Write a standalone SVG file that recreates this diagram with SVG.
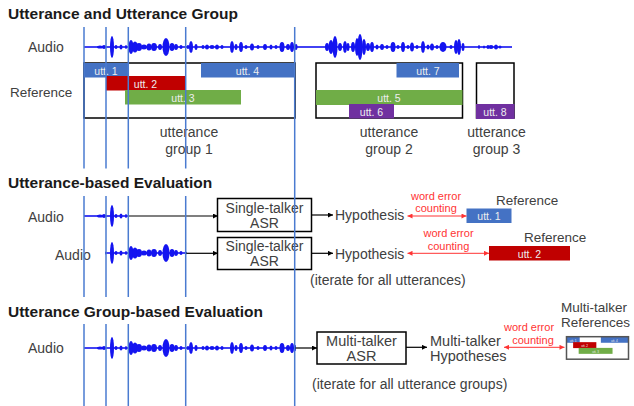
<svg xmlns="http://www.w3.org/2000/svg" width="634" height="406" viewBox="0 0 634 406">
<style>
.t{font-family:"Liberation Sans",Arial,sans-serif;fill:#404040}
.title{font-family:"Liberation Sans",Arial,sans-serif;font-weight:bold;font-size:15.5px;fill:#1a1a1a}
.lbl{font-size:14px}
.mid{text-anchor:middle}
.utt{font-family:"Liberation Sans",Arial,sans-serif;font-size:10.5px;fill:#eeeeee;text-anchor:middle}
.we{font-family:"Liberation Sans",Arial,sans-serif;font-size:11px;fill:#ff3333;text-anchor:middle}
.vl{stroke:#4A7BD0;stroke-width:1.5}
.box{fill:#fff;stroke:#000;stroke-width:1.5}
.frame{fill:none;stroke:#000;stroke-width:1.5}
.arr{stroke:#000;stroke-width:1.2;fill:none;marker-end:url(#ah)}
.rarr{stroke:#ff3333;stroke-width:1;fill:none;marker-start:url(#rah);marker-end:url(#rah)}
.blue{fill:#4472C4}.red{fill:#C00000}.green{fill:#70AD47}.purple{fill:#7030A0}
.wv{fill:#1414F0}
</style>
<defs>
<marker id="ah" viewBox="0 0 10 10" refX="10" refY="5" markerWidth="6" markerHeight="5" markerUnits="userSpaceOnUse" orient="auto"><path d="M0,0 L10,5 L0,10 z" fill="#000"/></marker>
<marker id="rah" viewBox="0 0 10 10" refX="10" refY="5" markerWidth="6" markerHeight="5" markerUnits="userSpaceOnUse" orient="auto-start-reverse"><path d="M0,0 L10,5 L0,10 z" fill="#ff3333"/></marker>
<g id="wave" class="wv">
<rect x="84" y="-0.8" width="428" height="1.6"/>
<ellipse cx="100" cy="0" rx="3" ry="1.5"/><ellipse cx="104" cy="0" rx="2" ry="2"/><ellipse cx="112" cy="0" rx="2" ry="11"/><ellipse cx="116" cy="0" rx="1.5" ry="2"/><ellipse cx="121" cy="0" rx="1.5" ry="2.5"/><ellipse cx="126" cy="0" rx="1" ry="2"/>
<ellipse cx="131" cy="0" rx="2.5" ry="7"/><ellipse cx="135" cy="0" rx="3" ry="5.5"/><ellipse cx="139" cy="0" rx="3" ry="4"/><ellipse cx="144" cy="0" rx="3" ry="2.5"/><ellipse cx="149" cy="0" rx="2.5" ry="3.5"/><ellipse cx="154" cy="0" rx="3" ry="4"/><ellipse cx="160" cy="0" rx="2" ry="3"/><ellipse cx="166" cy="0" rx="3.5" ry="9"/><ellipse cx="172" cy="0" rx="2.5" ry="4"/><ellipse cx="176" cy="0" rx="2" ry="3"/><ellipse cx="181" cy="0" rx="1.5" ry="2"/>
<ellipse cx="188" cy="0" rx="1.5" ry="2"/><ellipse cx="191" cy="0" rx="2" ry="6"/><ellipse cx="196" cy="0" rx="1.5" ry="3"/><ellipse cx="203" cy="0" rx="1.5" ry="2"/><ellipse cx="207" cy="0" rx="2" ry="2.5"/><ellipse cx="212" cy="0" rx="2.5" ry="2"/><ellipse cx="217" cy="0" rx="2" ry="2.5"/><ellipse cx="222" cy="0" rx="1.5" ry="2"/>
<ellipse cx="232" cy="0" rx="2" ry="6"/><ellipse cx="236" cy="0" rx="1.5" ry="3"/><ellipse cx="241" cy="0" rx="2" ry="5"/><ellipse cx="246" cy="0" rx="1.5" ry="2"/><ellipse cx="252" cy="0" rx="2" ry="3.5"/><ellipse cx="258" cy="0" rx="1.5" ry="2"/><ellipse cx="265" cy="0" rx="2" ry="3"/><ellipse cx="271" cy="0" rx="1.5" ry="2.5"/><ellipse cx="276" cy="0" rx="1.5" ry="2"/><ellipse cx="282" cy="0" rx="2.5" ry="5"/><ellipse cx="288" cy="0" rx="2" ry="3"/><ellipse cx="292" cy="0" rx="2" ry="5"/><ellipse cx="296" cy="0" rx="1.5" ry="3"/>
<ellipse cx="327" cy="0" rx="2" ry="4"/><ellipse cx="331" cy="0" rx="2.5" ry="7"/><ellipse cx="335" cy="0" rx="2.5" ry="11"/><ellipse cx="340" cy="0" rx="2" ry="4"/><ellipse cx="345" cy="0" rx="2" ry="6"/><ellipse cx="348" cy="0" rx="1.5" ry="4"/><ellipse cx="353" cy="0" rx="2" ry="5"/><ellipse cx="357" cy="0" rx="2" ry="9"/><ellipse cx="360" cy="0" rx="2.5" ry="13"/><ellipse cx="364" cy="0" rx="2" ry="8"/><ellipse cx="368" cy="0" rx="2" ry="4"/><ellipse cx="372" cy="0" rx="2" ry="5"/><ellipse cx="377" cy="0" rx="1.5" ry="2.5"/><ellipse cx="382" cy="0" rx="2" ry="3"/><ellipse cx="387" cy="0" rx="1.5" ry="2"/>
<ellipse cx="393" cy="0" rx="2.5" ry="5"/><ellipse cx="398" cy="0" rx="1.5" ry="2"/><ellipse cx="403" cy="0" rx="2" ry="5"/><ellipse cx="408" cy="0" rx="1.5" ry="2"/><ellipse cx="412" cy="0" rx="2" ry="4.5"/><ellipse cx="417" cy="0" rx="1.5" ry="2"/><ellipse cx="423" cy="0" rx="2" ry="6"/><ellipse cx="428" cy="0" rx="1.5" ry="2.5"/><ellipse cx="432" cy="0" rx="2" ry="3.5"/><ellipse cx="437" cy="0" rx="1.5" ry="2"/><ellipse cx="443" cy="0" rx="3.5" ry="5"/><ellipse cx="451" cy="0" rx="1.5" ry="2"/><ellipse cx="456" cy="0" rx="2" ry="7"/><ellipse cx="459" cy="0" rx="2" ry="8"/><ellipse cx="463" cy="0" rx="1.5" ry="4"/>
<ellipse cx="479" cy="0" rx="1" ry="2"/><ellipse cx="484" cy="0" rx="1" ry="1.5"/><ellipse cx="488" cy="0" rx="1.5" ry="2"/><ellipse cx="491" cy="0" rx="2.5" ry="2"/><ellipse cx="496" cy="0" rx="2" ry="2.5"/><ellipse cx="500" cy="0" rx="1.5" ry="1.5"/>
</g>
<clipPath id="c2"><rect x="83" y="190" width="46" height="40"/></clipPath>
<clipPath id="c3"><rect x="105" y="230" width="82" height="40"/></clipPath>
<clipPath id="c4"><rect x="83" y="325" width="213" height="45"/></clipPath>
</defs>

<!-- Section 1 -->
<text class="title" x="8" y="19">Utterance and Utterance Group</text>
<g id="audio1">
<text class="t lbl" x="28" y="52">Audio</text>
<use href="#wave" transform="translate(0,47)"/>
</g>
<text class="t" x="10" y="97" font-size="13.5">Reference</text>

<g id="group1">
<rect class="frame" x="84" y="63" width="211" height="55"/>
<g id="g1bars">
<rect class="blue" x="84" y="63" width="44.5" height="14.5"/>
<text class="utt" x="106" y="74.5">utt. 1</text>
<rect class="blue" x="201" y="63" width="94" height="14.5"/>
<text class="utt" x="247.5" y="74.5">utt. 4</text>
<rect class="red" x="106" y="76" width="79.5" height="14.5"/>
<text class="utt" x="145.5" y="88">utt. 2</text>
<rect class="green" x="125" y="90" width="116" height="14.5"/>
<text class="utt" x="183" y="102">utt. 3</text>
</g>
<text class="t lbl mid" x="189" y="137">utterance</text>
<text class="t lbl mid" x="189" y="154">group 1</text>
</g>

<g id="group2">
<rect class="frame" x="316" y="63" width="146.5" height="55"/>
<rect class="blue" x="396.5" y="63" width="62.5" height="14.5"/>
<text class="utt" x="428" y="75">utt. 7</text>
<rect class="green" x="316" y="90" width="146.5" height="15"/>
<text class="utt" x="389" y="101.5">utt. 5</text>
<rect class="purple" x="349" y="104" width="45" height="14.5"/>
<text class="utt" x="371.5" y="115.5">utt. 6</text>
<text class="t lbl mid" x="389" y="137">utterance</text>
<text class="t lbl mid" x="389" y="154">group 2</text>
</g>

<g id="group3">
<rect class="frame" x="476.5" y="63" width="37.5" height="55"/>
<rect class="purple" x="476" y="104" width="38.5" height="15"/>
<text class="utt" x="495" y="115.5">utt. 8</text>
<text class="t lbl mid" x="496.5" y="137">utterance</text>
<text class="t lbl mid" x="496.5" y="154">group 3</text>
</g>

<!-- Section 2 -->
<g id="audio2">
<text class="t lbl" x="28" y="221.5">Audio</text>
<g clip-path="url(#c2)"><use href="#wave" transform="translate(0,216)"/></g>
</g>
<g id="audio3">
<text class="t lbl" x="55" y="260">Audio</text>
<g clip-path="url(#c3)"><use href="#wave" transform="translate(0,253)"/></g>
</g>
<g id="asr1">
<rect class="box" x="217.5" y="198.5" width="94" height="33"/>
<text class="t lbl mid" x="264.5" y="213">Single-talker</text>
<text class="t lbl mid" x="264.5" y="228">ASR</text>
</g>
<g id="asr2">
<rect class="box" x="217.5" y="237.5" width="94" height="32"/>
<text class="t lbl mid" x="264.5" y="251">Single-talker</text>
<text class="t lbl mid" x="264.5" y="265.5">ASR</text>
</g>
<g id="hyp1"><text class="t lbl" x="335" y="220">Hypothesis</text></g>
<g id="hyp2"><text class="t lbl" x="335" y="258.5">Hypothesis</text></g>
<g id="ref1">
<text class="t" x="496" y="205" font-size="13.5">Reference</text>
<rect class="blue" x="466.5" y="208.5" width="45" height="14.5"/>
<text class="utt" x="489" y="220">utt. 1</text>
</g>
<g id="ref2">
<text class="t" x="524" y="241.5" font-size="13.5">Reference</text>
<rect class="red" x="489" y="246" width="81" height="14.5"/>
<text class="utt" x="529.5" y="257.5">utt. 2</text>
</g>
<text class="t lbl" x="310" y="285">(iterate for all utterances)</text>

<!-- Section 3 -->
<g id="audio4">
<text class="t lbl" x="28" y="353">Audio</text>
<g clip-path="url(#c4)"><use href="#wave" transform="translate(0,348)"/></g>
</g>
<g id="asr3">
<rect class="box" x="317" y="332" width="89" height="32"/>
<text class="t mid" x="361.5" y="345.5" font-size="14.5">Multi-talker</text>
<text class="t mid" x="361.5" y="361" font-size="14.5">ASR</text>
</g>
<g id="hyp3">
<text class="t" x="430" y="345.5" font-size="14.5">Multi-talker</text>
<text class="t" x="430" y="361" font-size="14.5">Hypotheses</text>
</g>
<g id="ref3">
<text class="t" x="561" y="312" font-size="13.5">Multi-talker</text>
<text class="t" x="561" y="326.5" font-size="13.5">References</text>
<use href="#g1bars" transform="translate(566.7,336.7) scale(0.292,0.41) translate(-84,-62.7)"/>
<rect x="566.5" y="336.7" width="62" height="22.5" fill="none" stroke="#555" stroke-width="1.5"/>
</g>
<text class="t lbl" x="312" y="389">(iterate for all utterance groups)</text>

<!-- connectors -->
<g id="connectors">
<line class="arr" x1="128" y1="216" x2="218" y2="216"/>
<line class="arr" x1="186" y1="253.3" x2="218" y2="253.3"/>
<line class="arr" x1="311.5" y1="215" x2="333" y2="215"/>
<line class="arr" x1="311.5" y1="253.3" x2="333" y2="253.3"/>
<line class="rarr" x1="407.5" y1="216" x2="466.5" y2="216"/>
<text class="we" x="436" y="199.5">word error</text>
<text class="we" x="436" y="212">counting</text>
<line class="rarr" x1="407.5" y1="253.3" x2="489" y2="253.3"/>
<text class="we" x="448.5" y="237">word error</text>
<text class="we" x="448.5" y="250">counting</text>
<line class="arr" x1="295" y1="348" x2="317" y2="348"/>
<line class="arr" x1="406" y1="347.3" x2="427" y2="347.3"/>
<line class="rarr" x1="504" y1="347.3" x2="564.5" y2="347.3"/>
<text class="we" x="529" y="331">word error</text>
<text class="we" x="533" y="344">counting</text>
</g>

<!-- vertical guide lines -->
<g id="guides">
<line class="vl" x1="84" y1="27" x2="84" y2="406"/>
<line class="vl" x1="106" y1="27" x2="106" y2="406"/>
<line class="vl" x1="128.3" y1="27" x2="128.3" y2="406"/>
<line class="vl" x1="185.7" y1="27" x2="185.7" y2="406"/>
<line class="vl" x1="294.7" y1="27" x2="294.7" y2="406"/>
</g>

<g id="titles">
<rect x="4" y="168.5" width="212" height="27.5" fill="#fff"/>
<text class="title" x="8" y="188">Utterance-based Evaluation</text>
<rect x="4" y="297" width="262" height="27" fill="#fff"/>
<text class="title" x="8" y="317">Utterance Group-based Evaluation</text>
</g>
</svg>
